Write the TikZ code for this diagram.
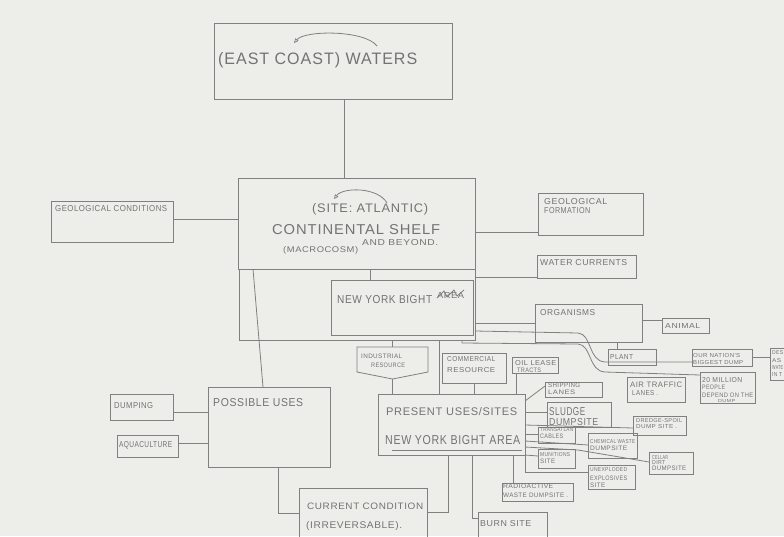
\documentclass[tikz,border=0pt]{standalone}
\usepackage{fontspec}
\usepackage{graphicx}
\setmainfont{Liberation Sans}
\newfontfamily\hand[LetterSpace=6]{Liberation Sans}
\usetikzlibrary{arrows.meta}
\definecolor{paper}{RGB}{237,237,234}
\definecolor{pencil}{RGB}{128,128,128}
\definecolor{ink}{RGB}{115,115,115}
\tikzset{
 box/.style={draw=pencil, line width=0.8pt, rectangle, inner sep=0pt, outer sep=0pt, anchor=north west},
 con/.style={draw=pencil, line width=0.8pt},
 txt/.style={anchor=base west, inner sep=0pt, text=ink},
 tip/.style={-{Triangle[open,length=4.5pt,width=4pt,line width=0.7pt]}},
}
\newcommand\bx[5]{\node[box, minimum width={#4pt-#2pt}, minimum height={#5pt-#3pt}] (#1) at (#2,#3) {};}
\newcommand\tx[6]{\node[txt] (#1) at (#2,#3) {\resizebox{#4pt}{#5pt}{\hand #6}};}
\begin{document}
\begin{tikzpicture}[x=1pt,y=-1pt]
\useasboundingbox (0,0) rectangle (784,536);
\clip (0,0) rectangle (784,536);
\fill[paper] (0,0) rectangle (784,536);
% boxes
\bx{ecw}{214}{23}{452}{99}
\bx{shelf}{238}{178}{475}{269}
\bx{area}{239}{269}{475}{340}
\bx{nyb}{331}{280}{473}{335}
\bx{geoc}{51}{201}{173}{242}
\bx{geof}{538}{193}{643}{235}
\bx{wcur}{537}{255}{636}{278}
\bx{org}{535}{304}{642}{342}
\bx{animal}{662}{318}{709}{333}
\bx{plant}{608}{349}{656}{365}
\bx{nation}{692}{349}{752}{366}
\bx{des}{770}{348}{810}{380}
\bx{million}{700}{372}{755}{403}
\node[inner sep=0pt, outer sep=0pt, anchor=north west, minimum width=71pt, minimum height=32pt] (indus) at (357,347) {};
\draw[con] (indus.north west) -- (indus.north east) -- ([yshift=7pt]indus.south east) -- (indus.south) -- ([yshift=7pt]indus.south west) -- cycle;
\bx{comm}{442}{353}{506}{383}
\bx{oil}{512}{357}{558}{373}
\bx{present}{378}{394}{525}{455}
\bx{possible}{208}{387}{330}{467}
\bx{dump}{110}{394}{173}{420}
\bx{aqua}{117}{435}{178}{457}
\bx{current}{299}{488}{427}{545}
\bx{burn}{478}{512}{547}{545}
\bx{ship}{545}{382}{602}{397}
\bx{air}{627}{377}{685}{402}
\bx{sludge}{547}{402}{611}{427}
\bx{dredge}{633}{416}{686}{435}
\bx{cables}{538}{427}{575}{443}
\bx{chem}{588}{433}{637}{458}
\bx{mun}{538}{449}{575}{468}
\bx{cellar}{649}{452}{693}{474}
\bx{unexp}{588}{465}{635}{489}
\bx{radio}{502}{483}{573}{501}
% texts
\tx{t1}{218}{64}{199}{12}{(EAST COAST) WATERS}
\tx{t2}{312}{212}{116}{9}{(SITE: ATLANTIC)}
\tx{t3}{272}{234}{168}{10}{CONTINENTAL SHELF}
\tx{t4}{283}{252}{75}{6}{(MACROCOSM)}
\tx{t5}{362}{245}{76}{6}{AND BEYOND.}
\tx{t6}{55}{211}{112}{6}{GEOLOGICAL CONDITIONS}
\tx{t7}{544}{204}{63}{6}{GEOLOGICAL}
\tx{t8}{544}{213}{46}{6}{FORMATION}
\tx{t9}{540}{265}{87}{6}{WATER CURRENTS}
\tx{t10}{337}{303}{95}{8}{NEW YORK BIGHT}
\tx{t11}{437}{298}{27}{6}{AREA}
\tx{t12}{540}{315}{55}{6}{ORGANISMS}
\tx{t13}{665}{328}{35}{5}{ANIMAL}
\tx{t14}{610}{359}{23}{5}{PLANT}
\tx{t15}{693}{357}{47}{4}{OUR NATION'S}
\tx{t16}{693}{364}{50}{4}{BIGGEST DUMP}
\tx{t17}{772}{354}{11}{4}{DES}
\tx{t18}{772}{362}{9}{4}{AS}
\tx{t19}{772}{369}{11}{4}{WATE}
\tx{t20}{772}{376}{10}{4}{IN T}
\tx{t21}{702}{382}{40}{5}{20 MILLION}
\tx{t22}{702}{389}{23}{4.5}{PEOPLE}
\tx{t23}{702}{397}{51}{4.5}{DEPEND ON THE}
\tx{t24}{718}{402}{17}{3}{DUMP}
\tx{t25}{361}{358}{41}{4.5}{INDUSTRIAL}
\tx{t26}{371}{367}{34}{4.5}{RESOURCE}
\tx{t27}{447}{361}{48}{5}{COMMERCIAL}
\tx{t28}{447}{372}{48}{5}{RESOURCE}
\tx{t29}{515}{365}{41}{5}{OIL LEASE}
\tx{t30}{517}{372}{24}{4.5}{TRACTS}
\tx{t31}{548}{387}{32}{4.5}{SHIPPING}
\tx{t32}{548}{394}{27}{4.5}{LANES}
\tx{t33}{630}{387}{52}{5.5}{AIR TRAFFIC}
\tx{t34}{632}{395}{26}{5}{LANES .}
\tx{t35}{549}{415}{36}{8}{SLUDGE}
\tx{t36}{549}{425}{49}{7}{DUMPSITE}
\tx{t37}{636}{422}{46}{4}{DREDGE-SPOIL}
\tx{t38}{636}{428}{41}{4}{DUMP SITE .}
\tx{t39}{540}{431}{33}{4}{TRANSATLAN}
\tx{t40}{540}{438}{23}{4.5}{CABLES}
\tx{t41}{590}{443}{45}{4}{CHEMICAL WASTE}
\tx{t42}{590}{450}{37}{4.5}{DUMPSITE}
\tx{t43}{540}{456}{30}{4}{MUNITIONS}
\tx{t44}{540}{463}{15}{4.5}{SITE}
\tx{t45}{652}{459}{16}{4}{CELLAR}
\tx{t46}{652}{464.5}{13}{4}{DIRT}
\tx{t47}{652}{470.5}{34}{4.5}{DUMPSITE}
\tx{t48}{590}{471}{37}{4}{UNEXPLODED}
\tx{t49}{590}{480}{37}{4.5}{EXPLOSIVES}
\tx{t50}{590}{487}{15}{4.5}{SITE}
\tx{t51}{503}{488}{50}{4.5}{RADIOACTIVE}
\tx{t52}{503}{497}{65}{4.5}{WASTE DUMPSITE .}
\tx{t53}{480}{526}{51}{6}{BURN SITE}
\tx{t54}{307}{509}{116}{6.5}{CURRENT CONDITION}
\tx{t55}{306}{528}{96}{7}{(IRREVERSABLE).}
\tx{t56}{213}{406}{90}{8}{POSSIBLE USES}
\tx{t57}{114}{408}{39}{6}{DUMPING}
\tx{t58}{119}{447}{53}{6}{AQUACULTURE}
\tx{t59}{386}{415}{131}{8}{PRESENT USES/SITES}
\tx{t60}{385}{444}{135}{9}{NEW YORK BIGHT AREA}
% underline and scribble
\draw[con] (t60.south west) ++(7,6) coordinate (ul1) -- ++(130,0) coordinate (ul2);
\draw[con] (t11.base west) -- ++(7,-7) -- ++(3,6) -- ++(7,-7) -- ++(3,6) -- ++(7,-6);
% curved annotation arrows
\coordinate (a1s) at (377,46); \coordinate (a1e) at (294,43);
\draw[con,tip] (a1s) .. controls (365,30) and (305,30) .. (a1e);
\coordinate (a2s) at (387,203); \coordinate (a2e) at (334,199);
\draw[con,tip] (a2s) .. controls (378,187) and (343,187) .. (a2e);
% connectors
\draw[con] (ecw.south -| 344,0) -- (shelf.north -| 344,0);
\draw[con] (geoc.east |- 0,219) -- (shelf.west |- 0,219);
\draw[con] (shelf.east |- 0,232) -- (geof.west |- 0,232);
\draw[con] (shelf.south -| 370,0) -- (nyb.north -| 370,0);
\draw[con] (area.east |- 0,277) -- (wcur.west |- 0,277);
\draw[con] (area.east |- 0,323) -- (org.west |- 0,323);
\draw[con] (org.east |- 0,320) -- (animal.west |- 0,320);
\draw[con] (org.south -| 617,0) -- (plant.north -| 617,0);
\draw[con] (area.east |- 0,331) -- (578,333) .. controls (592,334) and (588,361) .. (605,362) -- (nation.west |- 0,362);
\draw[con] (area.south -| 462,0) -- (462,343) -- (578,344) .. controls (592,345) and (588,371) .. (605,372) -- (million.west |- 0,375);
\draw[con] (nation.east) -- (des.west |- nation.east);
\draw[con] (area.south -| indus.north) -- (indus.north);
\draw[con] (indus.south) -- (present.north -| indus.south);
\draw[con] (area.south -| 439,0) -- (present.north -| 439,0);
\draw[con] (comm.south) -- (present.north -| comm.south);
\draw[con] (oil.south -| 516,0) -- (present.north -| 516,0);
\draw[con] (shelf.south -| 253,0) -- (possible.north -| 263,0);
\draw[con] (dump.east |- 0,412) -- (possible.west |- 0,412);
\draw[con] (aqua.east |- 0,443) -- (possible.west |- 0,443);
\draw[con] (possible.south -| 278,0) |- (current.west |- 0,513);
\draw[con] (current.east |- 0,512) -| (present.south -| 448,0);
\draw[con] (present.south -| 472,0) |- (burn.west |- 0,518);
\draw[con] (present.south -| 513,0) -- (radio.north -| 513,0);
\draw[con] (present.east |- 0,401) -- (ship.west |- 0,386);
\draw[con] (present.east |- 0,412) -- (sludge.west |- 0,412);
\draw[con] (present.east |- 0,425) -- (dredge.west |- 0,428);
\draw[con] (present.east |- 0,434) -- (cables.west |- 0,434);
\draw[con] (present.east |- 0,441) -- (chem.west |- 0,445);
\draw[con] (present.east |- 0,447) -- (578,450) -- (cellar.west |- 0,462);
\draw[con] (present.south east) -- (mun.west |- 0,456);
\draw[con] (present.south east) |- (unexp.west |- 0,472);
\end{tikzpicture}
\end{document}
